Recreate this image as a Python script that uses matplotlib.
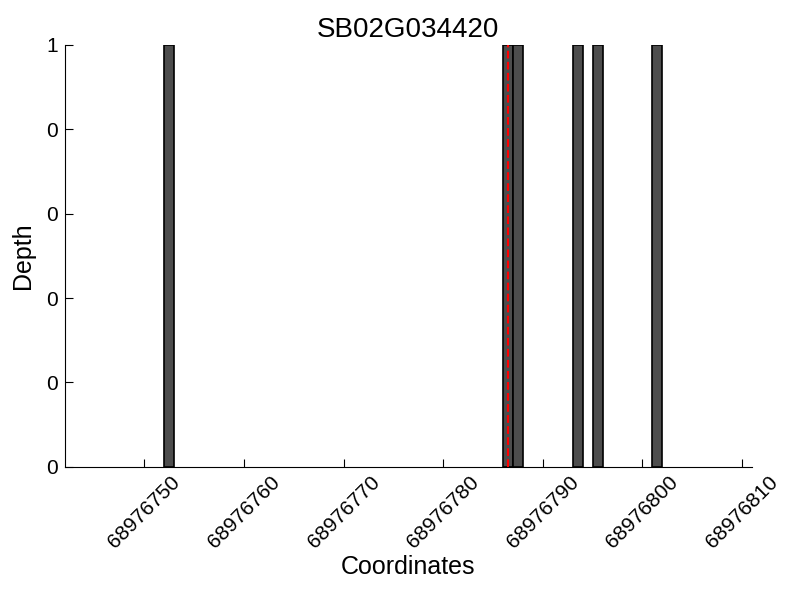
import matplotlib
matplotlib.use("Agg")
import matplotlib.pyplot as plt
from matplotlib.ticker import FormatStrFormatter

plt.rcParams['font.family'] = ['Liberation Sans', 'DejaVu Sans']

title = "SB02G034420"
positions = [68976752, 68976786, 68976787, 68976793, 68976795, 68976801]
depths = [1, 1, 1, 1, 1, 1]
marker_pos = 68976786.5
xticks = [68976750, 68976760, 68976770, 68976780, 68976790, 68976800, 68976810]
yticks = [0, 0.2, 0.4, 0.6, 0.8, 1.0]
xlim = (68976742, 68976811)

fig = plt.figure(figsize=(8, 6), dpi=100)
ax = fig.add_axes([0.081, 0.222, 0.859, 0.703])
ax.bar(positions, depths, width=1, align='edge', color='#4d4d4d',
       edgecolor='black', linewidth=1.2)
ax.axvline(marker_pos, color='red', linestyle='--', linewidth=1.5)
ax.set_xlim(*xlim)
ax.set_ylim(0, 1)
ax.set_xticks(xticks)
ax.set_xticklabels([str(x) for x in xticks], rotation=45, fontsize=15)
ax.set_yticks(yticks)
ax.yaxis.set_major_formatter(FormatStrFormatter('%d'))
ax.tick_params(axis='y', labelsize=15, pad=5)
ax.tick_params(axis='x', pad=4)
ax.tick_params(direction='in', length=6, top=False, right=False)
ax.spines['top'].set_visible(False)
ax.spines['right'].set_visible(False)
ax.set_xlabel("Coordinates", fontsize=18, labelpad=2)
ax.set_ylabel("Depth", fontsize=18, labelpad=8)
ax.set_title(title, fontsize=20)
fig.savefig("out.png", dpi=100)
